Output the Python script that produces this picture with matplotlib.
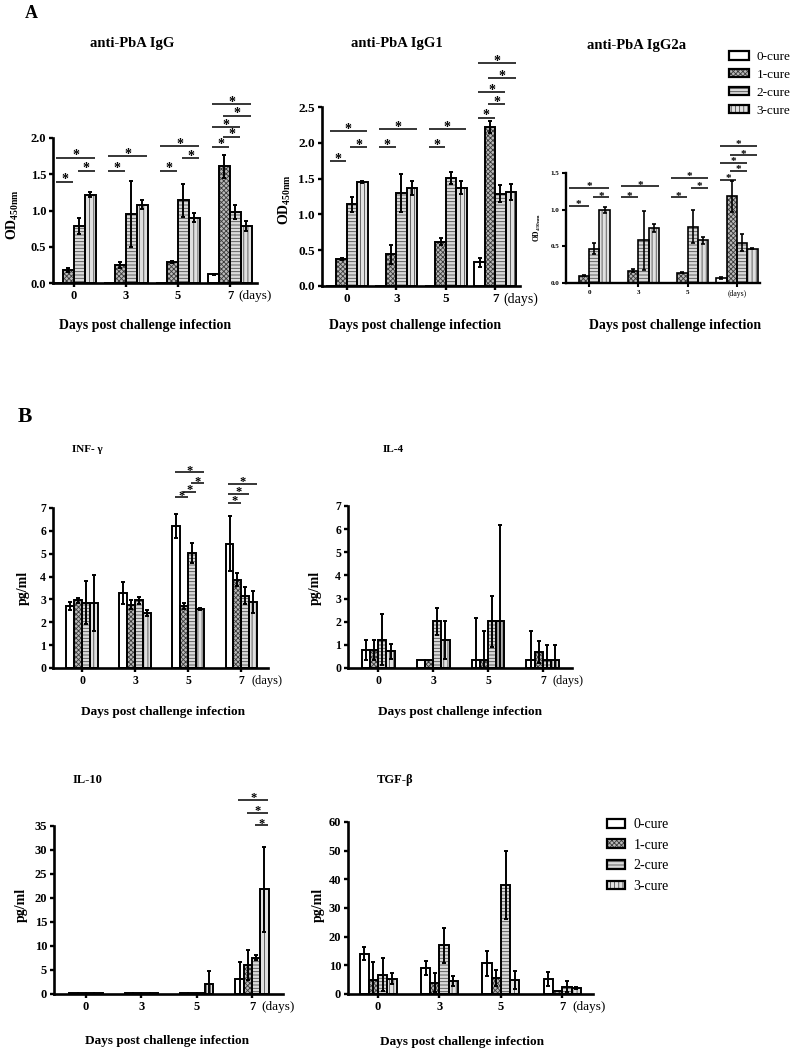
import numpy as np
import matplotlib
matplotlib.use('Agg')
import matplotlib.pyplot as plt
from matplotlib.patches import Patch

plt.rcParams['font.family'] = ['Liberation Serif', 'DejaVu Serif']
plt.rcParams['mathtext.fontset'] = 'custom'
plt.rcParams['mathtext.rm'] = 'Liberation Serif:bold'
plt.rcParams['mathtext.bf'] = 'Liberation Serif:bold'
plt.rcParams['hatch.linewidth'] = 0.6

W, H = 797, 1060

days = ['0', '3', '5', '7']
groups = ['0-cure', '1-cure', '2-cure', '3-cure']

# ---------- Panel A data (rows = day 0,3,5,7 ; cols = 0/1/2/3-cure) ----------
igg_mean = [[0.0, 0.18, 0.78, 1.22], [0.0, 0.25, 0.95, 1.08],
            [0.0, 0.29, 1.14, 0.90], [0.12, 1.61, 0.98, 0.79]]
igg_err = [[0.0, 0.03, 0.11, 0.04], [0.0, 0.04, 0.46, 0.06],
           [0.0, 0.02, 0.23, 0.06], [0.01, 0.16, 0.10, 0.07]]
igg_sig = [(0, 0, 1, 1.40), (0, 2, 3, 1.55), (0, 0, 3, 1.73),
           (1, 0, 1, 1.55), (1, 0, 3, 1.75),
           (2, 0, 1, 1.55), (2, 2, 3, 1.72), (2, 0, 3, 1.89),
           (3, 0, 1, 1.88), (3, 1, 2, 2.02), (3, 0, 2, 2.15), (3, 1, 3, 2.31), (3, 0, 3, 2.47)]

igg1_mean = [[0.0, 0.38, 1.14, 1.45], [0.0, 0.44, 1.30, 1.37],
             [0.0, 0.62, 1.51, 1.37], [0.33, 2.22, 1.29, 1.31]]
igg1_err = [[0.0, 0.01, 0.10, 0.01], [0.0, 0.13, 0.26, 0.10],
            [0.0, 0.05, 0.08, 0.09], [0.06, 0.09, 0.12, 0.11]]
igg1_sig = [(0, 0, 1, 1.74), (0, 2, 3, 1.94), (0, 0, 3, 2.16),
            (1, 0, 1, 1.94), (1, 0, 3, 2.19),
            (2, 0, 1, 1.94), (2, 0, 3, 2.19),
            (3, 0, 1, 2.35), (3, 1, 2, 2.54), (3, 0, 2, 2.71), (3, 1, 3, 2.90), (3, 0, 3, 3.11)]

igg2a_mean = [[0.0, 0.10, 0.47, 0.99], [0.0, 0.17, 0.58, 0.75],
              [0.0, 0.14, 0.77, 0.58], [0.07, 1.18, 0.55, 0.47]]
igg2a_err = [[0.0, 0.01, 0.08, 0.04], [0.0, 0.02, 0.40, 0.05],
             [0.0, 0.005, 0.22, 0.05], [0.01, 0.21, 0.12, 0.01]]
igg2a_sig = [(0, -0.3, 1, 1.05), (0, 2, 3, 1.17), (0, -0.3, 3, 1.30),
             (1, 0, 1, 1.17), (1, 0, 3, 1.32),
             (2, 0, 1, 1.17), (2, 2, 3, 1.30), (2, 0, 3, 1.43),
             (3, 0, 1, 1.41), (3, 1, 2, 1.53), (3, 0, 2, 1.64), (3, 1, 3, 1.74), (3, 0, 3, 1.87)]

# ---------- Panel B data ----------
ifn_mean = [[2.71, 2.96, 2.86, 2.84], [3.29, 2.77, 2.96, 2.42],
            [6.21, 2.73, 5.03, 2.58], [5.44, 3.87, 3.17, 2.89]]
ifn_err = [[0.18, 0.10, 0.94, 1.21], [0.47, 0.19, 0.14, 0.13],
           [0.51, 0.13, 0.45, 0.04], [1.19, 0.29, 0.37, 0.50]]
ifn_sig = [(2, 0, 1, 7.48), (2, 1, 2, 7.70), (2, 2, 3, 8.09), (2, 0, 3, 8.57),
           (3, 0, 1, 7.22), (3, 0, 2, 7.62), (3, 0, 3, 8.06)]

il4_mean = [[0.79, 0.79, 1.23, 0.72], [0.34, 0.34, 2.01, 1.20],
            [0.34, 0.34, 2.01, 2.01], [0.34, 0.70, 0.34, 0.34]]
il4_err = [[0.44, 0.44, 1.12, 0.33], [0.0, 0.0, 0.59, 0.81],
           [1.82, 1.24, 1.10, 4.17], [1.24, 0.47, 0.65, 0.65]]

il10_mean = [[0.15, 0.15, 0.15, 0.15], [0.15, 0.15, 0.15, 0.15],
             [0.15, 0.15, 0.15, 2.1], [3.1, 6.1, 7.6, 21.8]]
il10_err = [[0.0, 0.0, 0.0, 0.0], [0.0, 0.0, 0.0, 0.0],
            [0.0, 0.0, 0.0, 2.6], [3.5, 3.1, 0.6, 8.8]]
il10_sig = [(3, 0, 3, 40.5), (3, 1, 3, 37.8), (3, 2, 3, 35.2)]

tgf_mean = [[14.1, 4.8, 6.8, 5.4], [9.0, 3.9, 17.0, 4.6],
            [10.7, 5.6, 38.1, 5.0], [5.3, 0.9, 2.6, 2.0]]
tgf_err = [[2.4, 6.5, 5.6, 1.9], [2.4, 3.3, 6.1, 1.8],
           [4.3, 2.7, 11.9, 3.1], [2.5, 0.0, 2.0, 0.3]]

# ---------- styles ----------
faces = ['white', '#b8b8b8', '#dadada', '#e0e0e0']
hatches = [None, 'xxxxxxx', '-----', '||||']
hcolors = ['white', '#3a3a3a', '#4e4e4e', '#4e4e4e']

fig = plt.figure(figsize=(W / 100, H / 100), dpi=100)


def rect(l, r, top, bottom):
    return [l / W, 1 - bottom / H, (r - l) / W, (bottom - top) / H]


def fx(x):
    return x / W


def fy(y):
    return 1 - y / H


def panel(r, means, errs, ylim, yticks, yfmt, width, tick_fs, lw, sig=None,
          star_fs=8, xlim=(-0.5, 3.5), days_mode='after', days_dx=6):
    ax = fig.add_axes(r)
    means = np.array(means)
    errs = np.array(errs)
    x = np.arange(len(days))
    for g in range(4):
        xs = x + (g - 1.5) * width
        ax.bar(xs, means[:, g], width, color=faces[g], hatch=hatches[g],
               edgecolor=hcolors[g], linewidth=0, zorder=2)
        ax.bar(xs, means[:, g], width, fill=False, edgecolor='black',
               linewidth=lw, zorder=3)
        m = errs[:, g] > 0
        ax.errorbar(xs[m], means[m, g], yerr=errs[m, g], fmt='none',
                    ecolor='black', elinewidth=lw, capsize=1.6, capthick=lw,
                    zorder=4)
    ax.set_xlim(*xlim)
    ax.set_ylim(*ylim)
    ax.set_yticks(yticks)
    ax.set_yticklabels([yfmt.format(v) for v in yticks])
    ax.set_xticks(x)
    labels = list(days)
    if days_mode == 'replace':
        labels[-1] = ''
    ax.set_xticklabels(labels)
    for s in ['top', 'right']:
        ax.spines[s].set_visible(False)
    for s in ['left', 'bottom']:
        ax.spines[s].set_linewidth(lw + 0.5)
    ax.tick_params(axis='both', direction='out', length=3, width=lw + 0.3,
                   labelsize=tick_fs, pad=2)
    for t in ax.get_xticklabels() + ax.get_yticklabels():
        t.set_fontweight('bold')
    if days_mode == 'after':
        ax.annotate('(days)', xy=(3, 0), xycoords=ax.get_xaxis_transform(),
                    xytext=(days_dx, -5), textcoords='offset points',
                    ha='left', va='top', fontsize=tick_fs + 0.5,
                    annotation_clip=False)
    else:
        ax.annotate('(days)', xy=(3, 0), xycoords=ax.get_xaxis_transform(),
                    xytext=(0, -5), textcoords='offset points',
                    ha='center', va='top', fontsize=tick_fs + 0.5,
                    annotation_clip=False)
    if sig:
        for d, i, j, y in sig:
            x0 = d + (i - 1.5) * width - 0.15 * width
            x1 = d + (j - 1.5) * width + 0.45 * width
            ax.plot([x0, x1], [y, y], color='black', lw=1.1, clip_on=False,
                    solid_capstyle='butt')
            ax.annotate('*', xy=((x0 + x1) / 2, y), xytext=(0, -0.12 * star_fs),
                        textcoords='offset points', ha='center', va='baseline',
                        fontsize=star_fs, fontweight='bold',
                        annotation_clip=False)
    return ax


# ---------------- Panel A ----------------
wA = 0.21
a1 = panel(rect(53, 257, 138, 283), igg_mean, igg_err, (0, 2.0),
           [0, 0.5, 1.0, 1.5, 2.0], '{:.1f}', wA, 9, 1.4, igg_sig, star_fs=10,
           xlim=(-0.4, 3.52))
a2 = panel(rect(322, 520, 107, 286), igg1_mean, igg1_err, (0, 2.5),
           [0, 0.5, 1.0, 1.5, 2.0, 2.5], '{:.1f}', wA, 9.5, 1.4, igg1_sig,
           star_fs=10, xlim=(-0.5, 3.5))
a3 = panel(rect(566, 760, 173, 283), igg2a_mean, igg2a_err, (0, 1.5),
           [0, 0.5, 1.0, 1.5], '{:.1f}', wA, 5, 1.2, igg2a_sig, star_fs=8,
           xlim=(-0.47, 3.47), days_mode='replace')

fig.text(fx(132), fy(43), 'anti-PbA IgG', ha='center', va='center',
         fontsize=10.5, fontweight='bold')
fig.text(fx(397), fy(43), 'anti-PbA IgG1', ha='center', va='center',
         fontsize=10.5, fontweight='bold')
fig.text(fx(637), fy(46), 'anti-PbA IgG2a', ha='center', va='center',
         fontsize=10.5, fontweight='bold')
fig.text(fx(25), fy(14), 'A', ha='left', va='center', fontsize=13,
         fontweight='bold')

for xc in (145, 415, 675):
    fig.text(fx(xc), fy(325), 'Days post challenge infection', ha='center',
             va='center', fontsize=10, fontweight='bold')

fig.text(fx(13), fy(215), r'$\mathrm{OD_{450nm}}$', rotation=90, ha='center',
         va='center', fontsize=10)
fig.text(fx(285), fy(200), r'$\mathrm{OD_{450nm}}$', rotation=90, ha='center',
         va='center', fontsize=10)
fig.text(fx(537), fy(228), r'$\mathrm{OD_{450nm}}$', rotation=90, ha='center',
         va='center', fontsize=5.5)


def legend(x, y, fs, hl, hh, sp):
    handles = []
    for g in range(4):
        handles.append((Patch(facecolor=faces[g], hatch=hatches[g],
                              edgecolor=hcolors[g], linewidth=0),
                        Patch(fill=False, edgecolor='black', linewidth=1.6)))
    fig.legend(handles, groups, loc='upper left',
               bbox_to_anchor=(fx(x), fy(y)), frameon=False, fontsize=fs,
               handlelength=hl, handleheight=hh, labelspacing=sp,
               handletextpad=0.6, borderpad=0, borderaxespad=0)


legend(729, 51, 9.5, 1.5, 0.6, 0.45)

# ---------------- Panel B ----------------
wB = 0.15
b1 = panel(rect(53, 268, 508, 668), ifn_mean, ifn_err, (0, 7),
           list(range(0, 8)), '{:d}', wB, 8.5, 1.4, ifn_sig, star_fs=9,
           xlim=(-0.55, 3.5), days_dx=7)
b2 = panel(rect(348, 572, 506, 668), il4_mean, il4_err, (0, 7),
           list(range(0, 8)), '{:d}', wB, 8.5, 1.4, None,
           xlim=(-0.55, 3.53), days_dx=7)
b3 = panel(rect(54, 283, 826, 994), il10_mean, il10_err, (0, 35),
           list(range(0, 36, 5)), '{:d}', wB, 9, 1.4, il10_sig, star_fs=9,
           xlim=(-0.58, 3.56), days_dx=7)
b4 = panel(rect(348, 593, 822, 994), tgf_mean, tgf_err, (0, 60),
           list(range(0, 61, 10)), '{:d}', wB, 9, 1.4, None,
           xlim=(-0.49, 3.5), days_dx=7)

fig.text(fx(18), fy(417), 'B', ha='left', va='center', fontsize=15.5,
         fontweight='bold')
fig.text(fx(72), fy(450), 'INF- γ', ha='left', va='center', fontsize=8,
         fontweight='bold')
fig.text(fx(383), fy(450), 'IL-4', ha='left', va='center', fontsize=8,
         fontweight='bold')
fig.text(fx(73), fy(780), 'IL-10', ha='left', va='center', fontsize=9,
         fontweight='bold')
fig.text(fx(377), fy(780), 'TGF-β', ha='left', va='center', fontsize=9,
         fontweight='bold')

for xc, yc in ((163, 712), (460, 712), (167, 1041), (462, 1042)):
    fig.text(fx(xc), fy(yc), 'Days post challenge infection', ha='center',
             va='center', fontsize=9.5, fontweight='bold')

for xc, yc in ((23, 588), (315, 588), (21, 905), (318, 905)):
    fig.text(fx(xc), fy(yc), 'pg/ml', rotation=90, ha='center', va='center',
             fontsize=10, fontweight='bold')

legend(607, 818, 10, 1.3, 0.6, 0.55)

fig.savefig('out.png', dpi=100)
